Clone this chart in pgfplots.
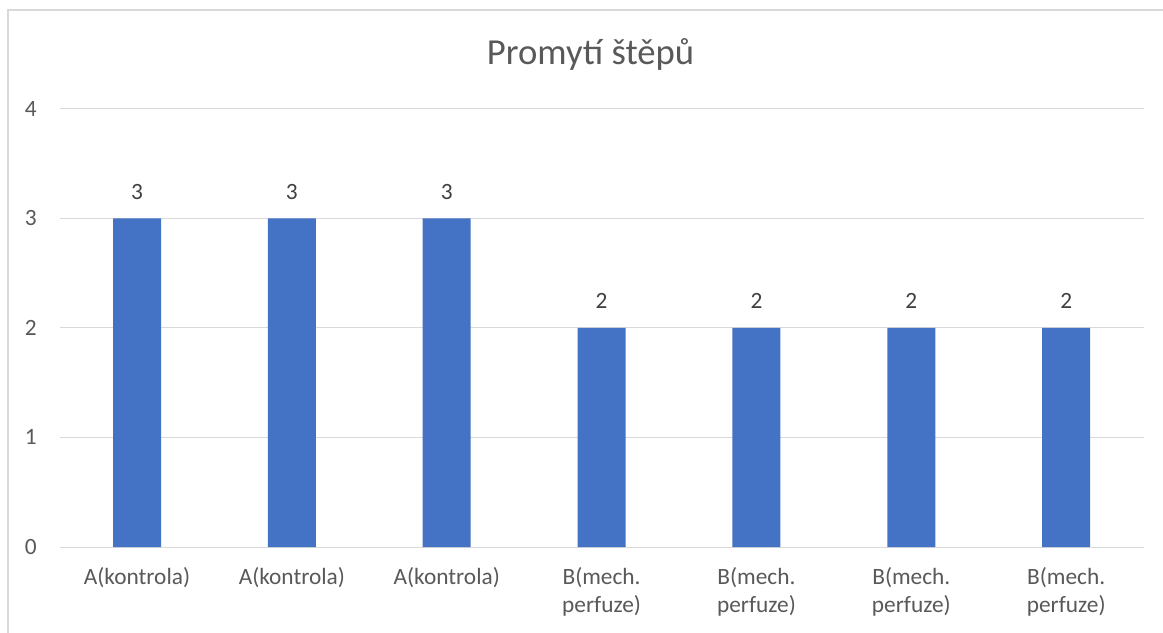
\documentclass[border=0pt]{standalone}
\usepackage{fontspec}
\setmainfont{Carlito}
\usepackage{pgfplots}
\pgfplotsset{compat=1.18}

\definecolor{barblue}{HTML}{4472C4}
\definecolor{gridgray}{HTML}{D9D9D9}
\definecolor{ticktext}{HTML}{595959}
\definecolor{labeltext}{HTML}{404040}

\begin{document}
\begin{tikzpicture}
% page frame: 1163 x 632 px at 0.75 pt per px
\useasboundingbox (0,0) rectangle (872.25pt,474pt);
\fill[white] (0,0) rectangle (872.25pt,474pt);
% chart border (left and top edges)
\draw[gridgray, line width=1.5pt] (6pt,-5pt) -- (6pt,466.5pt) -- (880pt,466.5pt);

\begin{axis}[
  at={(44.7pt,63.75pt)}, anchor=south west,
  scale only axis,
  width=813pt, height=328.7pt,
  xmin=-0.5, xmax=6.5,
  ymin=0, ymax=4,
  ybar, bar width=36pt,
  axis line style={draw=none},
  axis x line*=bottom,
  axis y line*=left,
  major tick length=0pt,
  ytick={0,1,2,3,4},
  ymajorgrids,
  grid style={gridgray, line width=0.75pt},
  xtick=data,
  xticklabels={A(kontrola),A(kontrola),A(kontrola),B(mech.\\perfuze),B(mech.\\perfuze),B(mech.\\perfuze),B(mech.\\perfuze)},
  xticklabel style={align=center, anchor=north, inner sep=0pt, yshift=-15pt,
    font=\fontsize{17.5}{21}\selectfont, text=ticktext},
  yticklabel style={anchor=east, inner sep=0pt, xshift=-17pt,
    font=\fontsize{17.5}{21}\selectfont, text=ticktext},
  /pgf/number format/assume math mode=true,
  nodes near coords,
  every node near coord/.append style={anchor=south, inner sep=0pt, yshift=14pt,
    font=\fontsize{17.5}{21}\selectfont, text=labeltext},
  clip=false,
]
% horizontal axis line
\draw[gridgray, line width=0.75pt] (axis cs:-0.5,0) -- (axis cs:6.5,0);
\addplot[fill=barblue, draw=none] coordinates {
  (0,3) (1,3) (2,3) (3,2) (4,2) (5,2) (6,2)
};
\end{axis}

% chart title
\node[anchor=base, font=\fontsize{27.5}{33}\selectfont, text=ticktext]
  at (442.9pt,425.25pt) {Promytí štěpů};
\end{tikzpicture}
\end{document}
